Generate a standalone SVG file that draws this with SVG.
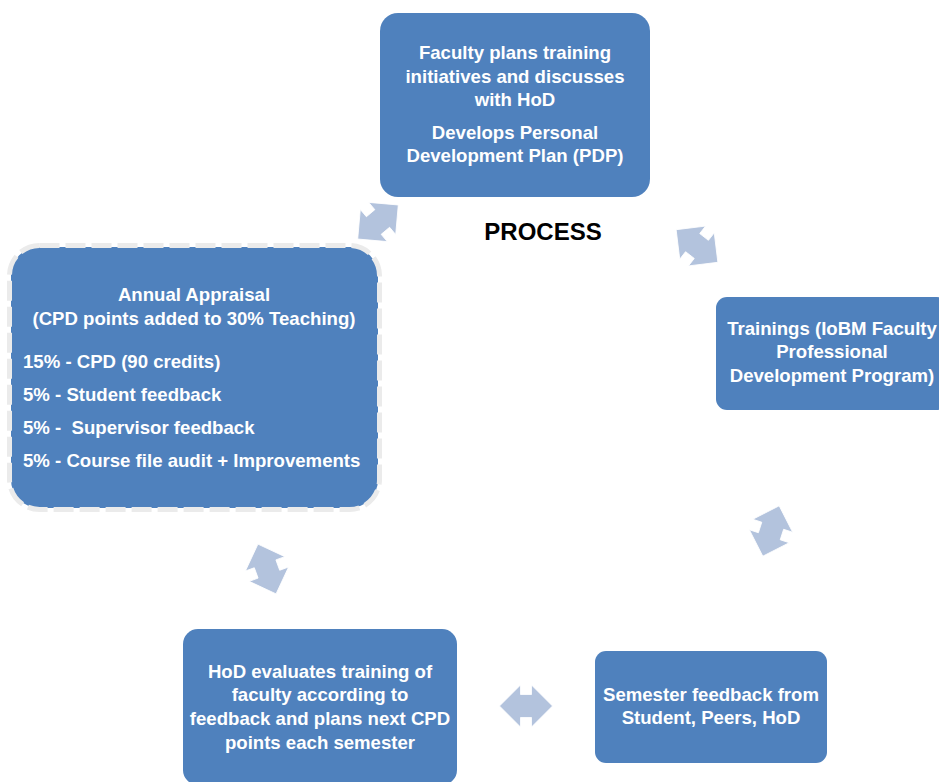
<svg xmlns="http://www.w3.org/2000/svg" width="939" height="782" viewBox="0 0 939 782">
<defs>
<style>
.box{fill:#4f81bd;}
.t{font-family:"Liberation Sans",Arial,sans-serif;font-weight:bold;font-size:18.6px;fill:#ffffff;}
.c{text-anchor:middle;}
.arr{fill:#b3c3dd;stroke:#ffffff;stroke-width:0.8;}
</style>
<polygon id="dbl" points="-26.5,0 -5.5,-21 -5.5,-11.5 5.5,-11.5 5.5,-21 26.5,0 5.5,21 5.5,11.5 -5.5,11.5 -5.5,21"/>
</defs>
<rect width="939" height="782" fill="#ffffff"/>
<g id="connectors">
<use href="#dbl" class="arr" transform="translate(378,222) rotate(-40)"/>
<use href="#dbl" class="arr" transform="translate(697,246) rotate(38)"/>
<use href="#dbl" class="arr" transform="translate(771,531) rotate(108)"/>
<use href="#dbl" class="arr" transform="translate(526,706)"/>
<use href="#dbl" class="arr" transform="translate(267,569) rotate(70)"/>
</g>
<g id="title">
<text x="543" y="240" text-anchor="middle" font-family="Liberation Sans, Arial, sans-serif" font-weight="bold" font-size="24" fill="#000000">PROCESS</text>
</g>
<g id="node-plan">
<rect class="box" x="380" y="13" width="270" height="184" rx="18"/>
<text class="t c" x="515" y="59">Faculty plans training</text>
<text class="t c" x="515" y="83">initiatives and discusses</text>
<text class="t c" x="515" y="106">with HoD</text>
<text class="t c" x="515" y="139">Develops Personal</text>
<text class="t c" x="515" y="162">Development Plan (PDP)</text>
</g>
<g id="node-trainings">
<rect class="box" x="716" y="297" width="232" height="113" rx="11"/>
<text class="t c" x="832" y="335">Trainings (IoBM Faculty</text>
<text class="t c" x="832" y="358">Professional</text>
<text class="t c" x="832" y="382">Development Program)</text>
</g>
<g id="node-feedback">
<rect class="box" x="595" y="651" width="232" height="112" rx="11"/>
<text class="t c" x="711" y="701">Semester feedback from</text>
<text class="t c" x="711" y="724">Student, Peers, HoD</text>
</g>
<g id="node-evaluate">
<rect class="box" x="183" y="629" width="274" height="156" rx="15"/>
<text class="t c" x="320" y="678">HoD evaluates training of</text>
<text class="t c" x="320" y="701">faculty according to</text>
<text class="t c" x="320" y="725">feedback and plans next CPD</text>
<text class="t c" x="320" y="749">points each semester</text>
</g>
<g id="node-appraisal">
<rect class="box" x="11" y="247" width="367" height="261" rx="28"/>
<rect x="9.5" y="245.5" width="370" height="264" rx="30" fill="none" stroke="#ebebeb" stroke-width="5" stroke-dasharray="20 6"/>
<text class="t c" x="194" y="301">Annual Appraisal</text>
<text class="t c" x="194" y="325">(CPD points added to 30% Teaching)</text>
<text class="t" x="23" y="368">15% - CPD (90 credits)</text>
<text class="t" x="23" y="401">5% - Student feedback</text>
<text class="t" x="23" y="434" xml:space="preserve">5% -  Supervisor feedback</text>
<text class="t" x="23" y="467">5% - Course file audit + Improvements</text>
</g>
</svg>
